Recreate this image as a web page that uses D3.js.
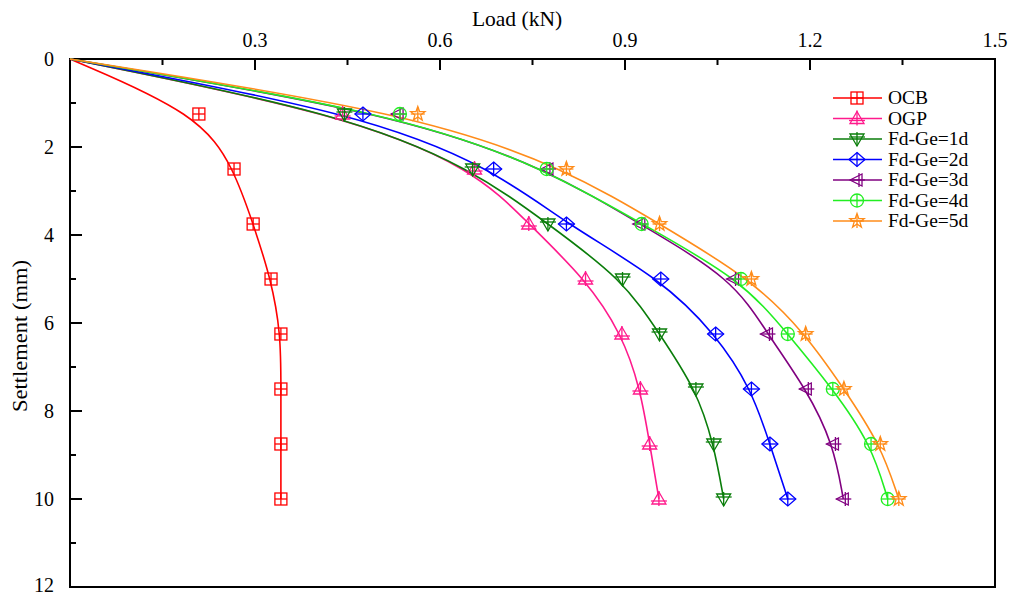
<!DOCTYPE html>
<html><head><meta charset="utf-8">
<script src="https://cdn.jsdelivr.net/npm/d3@7"></script>
<style>body{margin:0;background:#fff}svg{display:block}text{fill:#000}</style>
</head><body><svg id="c" width="1011" height="596" font-family="'Liberation Serif', 'DejaVu Serif', serif"></svg>
<script>
const settlement = [0,1.25,2.5,3.75,5,6.25,7.5,8.75,10];
const seriesNames = ["OCB","OGP","Fd-Ge=1d","Fd-Ge=2d","Fd-Ge=3d","Fd-Ge=4d","Fd-Ge=5d"];
const ocb = [0,0.209,0.266,0.297,0.326,0.342,0.342,0.342,0.342];
const ogp = [0,0.442,0.656,0.744,0.836,0.895,0.925,0.940,0.955];
const fd1 = [0,0.445,0.653,0.775,0.896,0.956,1.015,1.044,1.060];
const fd2 = [0,0.475,0.687,0.805,0.958,1.047,1.105,1.135,1.164];
const fd3 = [0,0.532,0.775,0.924,1.076,1.131,1.194,1.238,1.254];
const fd4 = [0,0.535,0.773,0.927,1.088,1.164,1.237,1.299,1.326];
const fd5 = [0,0.564,0.805,0.956,1.105,1.193,1.255,1.314,1.344];
const xTicks = [0.3,0.6,0.9,1.2,1.5];
const yTicks = [0,2,4,6,8,10,12];

const colors = ["#ff0000","#ff1a8c","#0a7d0a","#0000ff","#800080","#22ee22","#ff8c1a"];
const markers = ["square","triUp","triDown","diamond","triLeft","circle","star"];
const values = [ocb,ogp,fd1,fd2,fd3,fd4,fd5];

const svg = d3.select("#c");
const L=70,R=995,T=59,B=587;
const x = d3.scaleLinear().domain([0,1.5]).range([L,R]);
const y = d3.scaleLinear().domain([0,12]).range([T,B]);

// frame
svg.append("rect").attr("x",L).attr("y",T).attr("width",R-L).attr("height",B-T)
  .attr("fill","none").attr("stroke","#000").attr("stroke-width",2);

// top axis
const xa = svg.append("g").attr("transform",`translate(0,${T})`);
d3.range(0.15,1.5,0.15).forEach((v,i)=>{
  const major = (i%2===1);
  xa.append("line").attr("x1",x(v)).attr("x2",x(v)).attr("y1",0).attr("y2",major?11:6)
    .attr("stroke","#000").attr("stroke-width",2);
});
xTicks.forEach(v=>{
  xa.append("text").attr("x",x(v)).attr("y",-12).attr("text-anchor","middle")
    .attr("font-size",20).text(d3.format(".1f")(v));
});
svg.append("text").attr("x",517).attr("y",26).attr("text-anchor","middle").attr("font-size",21.5).text("Load (kN)");

// left axis
const ya = svg.append("g").attr("transform",`translate(${L},0)`);
d3.range(0,13,1).forEach(v=>{
  const major = v%2===0;
  if(v===0||v===12) return;
  ya.append("line").attr("x1",0).attr("x2",major?12:6).attr("y1",y(v)).attr("y2",y(v))
    .attr("stroke","#000").attr("stroke-width",2);
});
yTicks.forEach(v=>{
  ya.append("text").attr("x",-16).attr("y",y(v)+(v===12?5:7)).attr("text-anchor","end")
    .attr("font-size",20).text(v);
});
svg.append("text").attr("transform","translate(27,336) rotate(-90)").attr("text-anchor","middle")
  .attr("font-size",20).attr("textLength",152).attr("lengthAdjust","spacingAndGlyphs").text("Settlement (mm)");

// marker drawing
function drawMarker(g, type, cx, cy, color){
  const m = g.append("g").attr("transform",`translate(${cx},${cy})`)
    .attr("fill","none").attr("stroke",color).attr("stroke-width",1.3);
  const ln=(x1,y1,x2,y2)=>m.append("line").attr("x1",x1).attr("y1",y1).attr("x2",x2).attr("y2",y2);
  const poly=(pts)=>m.append("polygon").attr("points",pts.map(p=>p.join(",")).join(" "));
  switch(type){
    case "square": m.append("rect").attr("x",-6).attr("y",-6).attr("width",12).attr("height",12);
      ln(0,-6,0,6); ln(-6,0,6,0); break;
    case "triUp": poly([[0,-7],[7,5],[-7,5]]); ln(0,-8,0,7); ln(-8,2,8,2); break;
    case "triDown": poly([[-7,-5],[7,-5],[0,7]]); ln(0,-7,0,7); ln(-8,-2,8,-2); break;
    case "diamond": poly([[0,-7],[8,0],[0,7],[-8,0]]); ln(0,-7,0,7); ln(-8,0,8,0); break;
    case "triLeft": poly([[-7,0],[5,-6],[5,6]]); ln(-7,0,8,0); ln(2,-7,2,7); break;
    case "circle": m.append("circle").attr("r",6.5); ln(0,-6.5,0,6.5); ln(-6.5,0,6.5,0); break;
    case "star": {
      const pts=[]; for(let i=0;i<10;i++){const a=-Math.PI/2+i*Math.PI/5; const r=i%2?3:7.5; pts.push([r*Math.cos(a),r*Math.sin(a)]);}
      poly(pts); ln(0,-7,0,7); ln(-7,0,7,0); break;
    }
  }
}

const line = d3.line().x(d=>x(d[0])).y(d=>y(d[1])).curve(d3.curveBasis);
const plot = svg.append("g");
values.forEach((vals,i)=>{
  const pts = vals.map((v,j)=>[v,settlement[j]]);
  plot.append("path").attr("d",line(pts)).attr("fill","none").attr("stroke",colors[i]).attr("stroke-width",1.6);
});
values.forEach((vals,i)=>{
  vals.forEach((v,j)=>{ if(j>0) drawMarker(plot, markers[i], x(v), y(settlement[j]), colors[i]); });
});

// legend
const lg = svg.append("g");
seriesNames.forEach((n,i)=>{
  const yy = 98 + i*20.5;
  lg.append("line").attr("x1",833).attr("x2",882).attr("y1",yy).attr("y2",yy).attr("stroke",colors[i]).attr("stroke-width",1.6);
  drawMarker(lg, markers[i], 857, yy, colors[i]);
  lg.append("text").attr("x",888).attr("y",yy+6).attr("font-size",19.5).text(n);
});
</script></body></html>
